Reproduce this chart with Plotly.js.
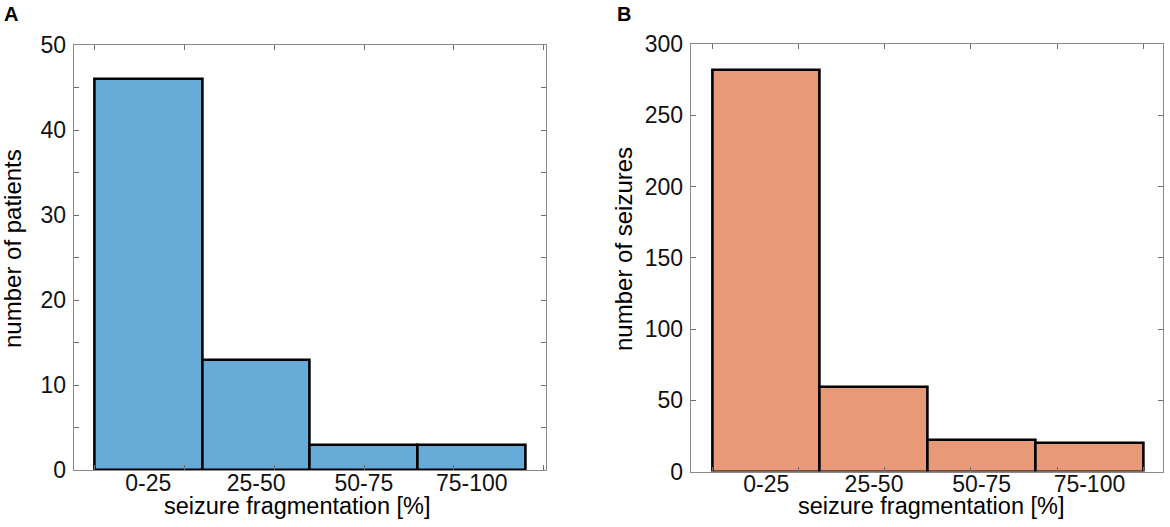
<!DOCTYPE html>
<html>
<head>
<meta charset="utf-8">
<script src="https://cdn.plot.ly/plotly-3.0.1.min.js"></script>
<style>
  html, body { margin: 0; padding: 0; background: #fff; }
  #chart { width: 1170px; height: 527px; }
</style>
</head>
<body>
<div id="chart"></div>
<script>
// values
const categories = ["0-25", "25-50", "50-75", "75-100"];
const patients = [46, 13, 3, 3];
const seizures = [282, 59, 22, 20];

const W = 1170, H = 527;
const px = (x) => x / W;
const py = (y) => 1 - y / H;

const font = "Liberation Sans, Arial, Helvetica, sans-serif";
const frameColor = "#8a8a8a";
const tickColor = "#6e6e6e";
const binPos = categories.map((c, i) => i + 1);

const barTrace = (yvals, color, xa, ya) => ({
    type: "bar",
    x: binPos,
    y: yvals,
    width: 1,
    xaxis: xa,
    yaxis: ya,
    marker: { color: color, line: { color: "#000", width: 2.6 } },
    hoverinfo: "skip",
});

const catAxis = (domain, range) => ({
    domain: domain,
    range: range,
    tickmode: "array",
    tickvals: binPos,
    ticktext: categories,
    ticks: "",
    showline: true,
    linecolor: frameColor,
    linewidth: 1.2,
    mirror: true,
    showgrid: false,
    zeroline: false,
    fixedrange: true,
    ticklabelstandoff: -8,
    tickfont: { family: font, size: 23, color: "#111" },
});

// MATLAB style tick marks along top and bottom (not at bin centres)
const tickAxis = (over, anchor, range, step) => ({
    overlaying: over,
    anchor: anchor,
    side: "top",
    range: range,
    tickmode: "linear",
    tick0: 0.5,
    dtick: step,
    ticks: "inside",
    ticklen: 5,
    tickwidth: 1,
    tickcolor: tickColor,
    mirror: "ticks",
    showline: false,
    showticklabels: false,
    showgrid: false,
    zeroline: false,
    fixedrange: true,
});

const valAxis = (domain, anchor, range, dtick, minor) => {
    let ax = {
        domain: domain,
        anchor: anchor,
        range: range,
        dtick: dtick,
        ticks: "inside",
        ticklen: 5,
        tickwidth: 1,
        tickcolor: tickColor,
        showline: true,
        linecolor: frameColor,
        linewidth: 1.2,
        mirror: "ticks",
        showgrid: false,
        zeroline: false,
        fixedrange: true,
        ticklabelstandoff: 2,
        tickfont: { family: font, size: 23, color: "#111" },
    };
    if (minor) ax.minor = { dtick: minor, ticks: "inside", ticklen: 5, tickcolor: tickColor, showgrid: false };
    return ax;
};

const rangeA = [0.308, 4.689];
const rangeB = [0.298, 4.683];

const textAnn = (text, x, y, size, angle) => ({
    text: text,
    xref: "paper",
    yref: "paper",
    x: px(x),
    y: py(y),
    xanchor: "center",
    yanchor: "middle",
    showarrow: false,
    textangle: angle || 0,
    font: { family: font, size: size, color: "#000" },
});

const layout = {
    width: W,
    height: H,
    margin: { l: 0, r: 0, t: 0, b: 0 },
    paper_bgcolor: "#fff",
    plot_bgcolor: "#fff",
    showlegend: false,
    bargap: 0,
    xaxis: Object.assign(catAxis([px(73.7), px(546)], rangeA), { anchor: "y" }),
    yaxis: valAxis([py(470), py(45)], "x", [0, 50], 10, 5),
    xaxis2: Object.assign(catAxis([px(690.7), px(1163)], rangeB), { anchor: "y2" }),
    yaxis2: valAxis([py(471.5), py(44)], "x2", [0, 300], 50, null),
    xaxis3: tickAxis("x", "y", rangeA, 0.8338),
    xaxis4: tickAxis("x2", "y2", rangeB, 0.8),
    annotations: [
        textAnn("<b>A</b>", 11, 14, 20),
        textAnn("<b>B</b>", 624, 14, 20),
        textAnn("seizure fragmentation [%]", 297, 506, 23.5),
        textAnn("seizure fragmentation [%]", 931, 506, 23.5),
        textAnn("number of patients", 13, 249, 24, -90),
        textAnn("number of seizures", 624, 249, 24, -90),
    ],
};

const data = [
    barTrace(patients, "#67abd8", "x", "y"),
    barTrace(seizures, "#e89a78", "x2", "y2"),
    { type: "scatter", x: [], y: [], xaxis: "x3", yaxis: "y", hoverinfo: "skip" },
    { type: "scatter", x: [], y: [], xaxis: "x4", yaxis: "y2", hoverinfo: "skip" },
];

Plotly.newPlot("chart", data, layout, { displayModeBar: false, responsive: false });
</script>
</body>
</html>
